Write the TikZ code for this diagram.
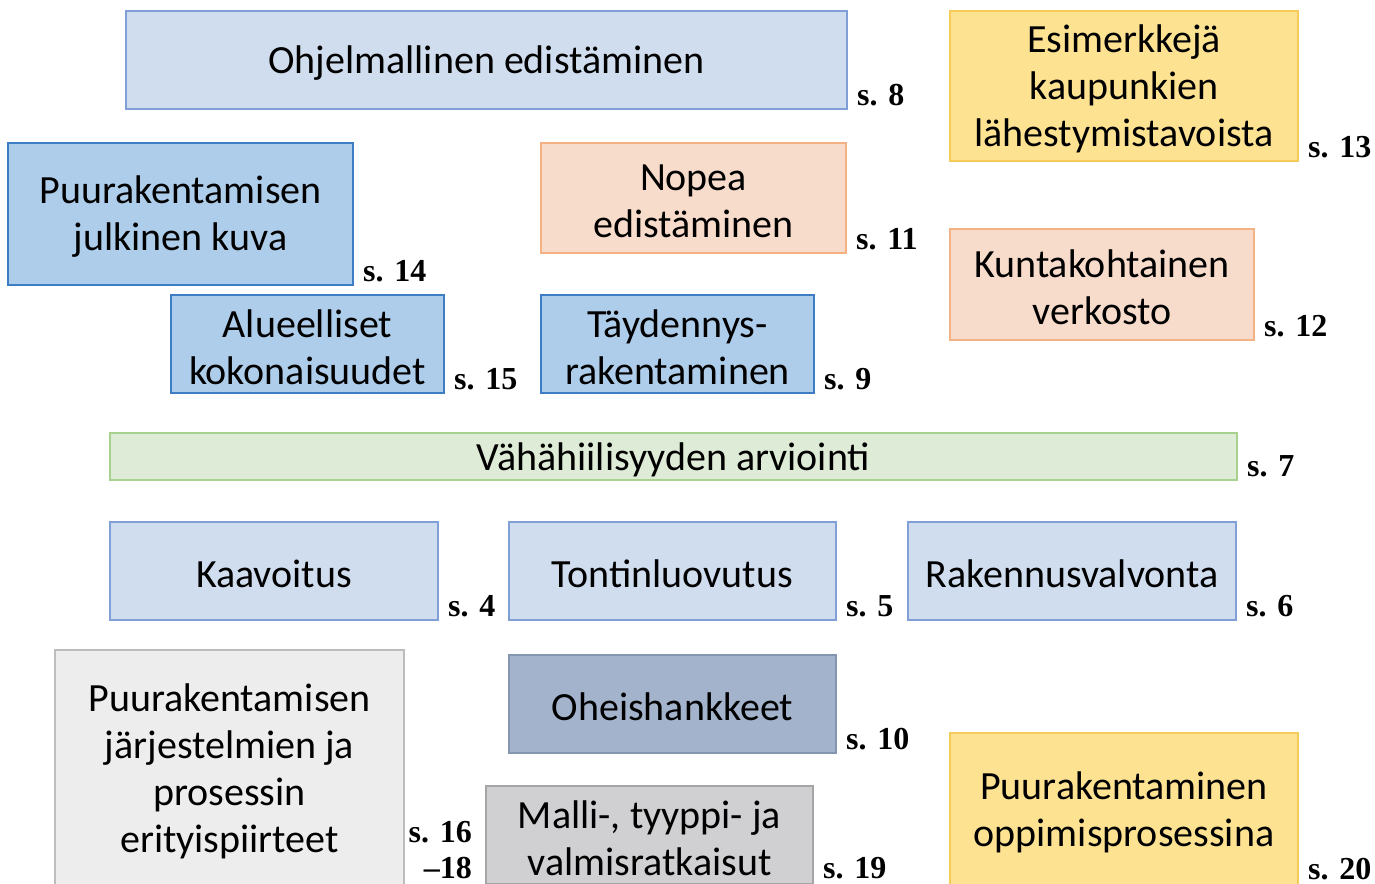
\documentclass[tikz,border=0pt]{standalone}
\usepackage{fontspec}
\setmainfont{Carlito}
\newfontfamily\labfont{Liberation Serif}
\definecolor{lbfill}{HTML}{D0DDEF}
\definecolor{lbdraw}{HTML}{7F9FD6}
\definecolor{dbfill}{HTML}{AECDEA}
\definecolor{dbdraw}{HTML}{3C7DC4}
\definecolor{safill}{HTML}{F8DCCB}
\definecolor{sadraw}{HTML}{F4B183}
\definecolor{yefill}{HTML}{FDE292}
\definecolor{yedraw}{HTML}{F7CB59}
\definecolor{grfill}{HTML}{DEEBD6}
\definecolor{grdraw}{HTML}{A9D18E}
\definecolor{g1fill}{HTML}{EDEDED}
\definecolor{g1draw}{HTML}{BDBDBD}
\definecolor{ohfill}{HTML}{A3B3CC}
\definecolor{ohdraw}{HTML}{8496B0}
\definecolor{g2fill}{HTML}{D0D0D2}
\definecolor{g2draw}{HTML}{A5A5A5}
\begin{document}
\begin{tikzpicture}[x=1pt,y=-1pt,
  box/.style={draw, line width=2pt, inner sep=0pt},
  txt/.style={align=center, inner sep=0pt, font=\fontsize{40}{47}\selectfont, text=black, yshift=-3pt},
  pg/.style={anchor=base west, font=\labfont\bfseries\fontsize{32}{36}\selectfont, inner sep=0pt, xshift=9pt, yshift=5pt},
  lb/.style={box, fill=lbfill, draw=lbdraw},
  db/.style={box, fill=dbfill, draw=dbdraw},
  sa/.style={box, fill=safill, draw=sadraw},
  ye/.style={box, fill=yefill, draw=yedraw},
  gr/.style={box, fill=grfill, draw=grdraw},
  ga/.style={box, fill=g1fill, draw=g1draw},
  oh/.style={box, fill=ohfill, draw=ohdraw},
  gb/.style={box, fill=g2fill, draw=g2draw}
]
\useasboundingbox (0,0) rectangle (1375,883);
\clip (0,0) rectangle (1375,883);
% helper: box from corners, with its text node
\newcommand{\bx}[7]{\node[#1, minimum width=#4-#2, minimum height=#5-#3] (#6) at ({(#2+#4)/2},{(#3+#5)/2}) {};
  \node[txt] (#6t) at (#6.center) {#7};}
\bx{lb}{126}{11}{847}{109}{ohj}{Ohjelmallinen edistäminen}
\bx{ye}{950}{11}{1298}{161}{esi}{Esimerkkejä\\kaupunkien\\lähestymistavoista}
\bx{db}{8}{143}{353}{285}{jul}{Puurakentamisen\\julkinen kuva}
\bx{sa}{541}{143}{846}{253}{nop}{Nopea\\edistäminen}
\bx{sa}{950}{229}{1254}{340}{kun}{Kuntakohtainen\\verkosto}
\bx{db}{171}{295}{444}{393}{alu}{Alueelliset\\kokonaisuudet}
\bx{db}{541}{295}{814}{393}{tay}{Täydennys-\\rakentaminen}
\bx{gr}{110}{433}{1237}{480}{vah}{Vähähiilisyyden arviointi}
\bx{lb}{110}{522}{438}{620}{kaa}{Kaavoitus}
\bx{lb}{509}{522}{836}{620}{ton}{Tontinluovutus}
\bx{lb}{908}{522}{1236}{620}{rak}{Rakennusvalvonta}
\bx{ga}{55}{650}{404}{886}{jar}{Puurakentamisen\\järjestelmien ja\\prosessin\\erityispiirteet}
\bx{oh}{509}{655}{836}{753}{ohe}{Oheishankkeet}
\bx{gb}{486}{786}{813}{884}{mal}{Malli-, tyyppi- ja\\valmisratkaisut}
\bx{ye}{950}{733}{1298}{886}{opp}{Puurakentaminen\\oppimisprosessina}
\node[pg] (p8) at (ohj.south east) {s. 8};
\node[pg] (p13) at (esi.south east) {s. 13};
\node[pg] (p14) at (jul.south east) {s. 14};
\node[pg] (p11) at (nop.south east) {s. 11};
\node[pg] (p12) at (kun.south east) {s. 12};
\node[pg] (p15) at (alu.south east) {s. 15};
\node[pg] (p9) at (tay.south east) {s. 9};
\node[pg] (p7) at (vah.south east) {s. 7};
\node[pg] (p4) at (kaa.south east) {s. 4};
\node[pg] (p5) at (ton.south east) {s. 5};
\node[pg] (p6) at (rak.south east) {s. 6};
\node[pg] (p10) at (ohe.south east) {s. 10};
\node[pg, yshift=2pt] (p19) at (mal.south east) {s. 19};
\node[pg, yshift=3pt] (p20) at (opp.south east) {s. 20};
\node[anchor=base east, align=right, inner sep=0pt, font=\labfont\bfseries\fontsize{32}{36}\selectfont] (p16) at (472,878) {s. 16\\\llap{–}18};
\end{tikzpicture}
\end{document}
